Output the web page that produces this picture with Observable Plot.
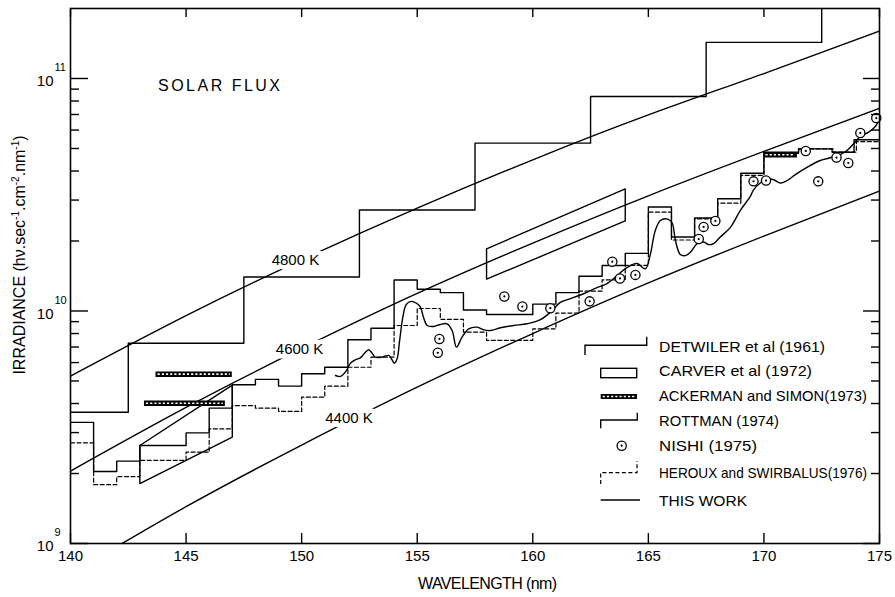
<!DOCTYPE html>
<html>
<head>
<meta charset="utf-8">
<script src="https://cdn.jsdelivr.net/npm/d3@7"></script>
<script src="https://cdn.jsdelivr.net/npm/@observablehq/plot@0.6"></script>
<style>
html, body { margin: 0; padding: 0; background: #fff; overflow: hidden; }
#chart { width: 895px; height: 597px; }
</style>
</head>
<body>
<div id="chart"></div>
<script>
// ---------- DATA ----------
const wavelengthTicks = [140, 145, 150, 155, 160, 165, 170, 175];
const yMajorTicks = [1e9, 1e10, 1e11];
const yExponentLabels = ["9", "10", "11"];
const yMinorTicks = [2e9, 3e9, 4e9, 5e9, 6e9, 7e9, 8e9, 9e9, 2e10, 3e10, 4e10, 5e10, 6e10, 7e10, 8e10, 9e10];

// black-body reference curves
const bbWavelength = [140, 145, 150, 155, 160, 165, 170, 175];
const bb4800 = [5.25e9, 9.55e9, 1.66e10, 2.77e10, 4.47e10, 6.97e10, 1.05e11, 1.6e11];
const bb4600 = [2.05e9, 3.85e9, 6.9e9, 1.19e10, 1.96e10, 3.13e10, 4.86e10, 7.45e10];
const bb4400 = [7.4e8, 1.44e9, 2.65e9, 4.7e9, 8.0e9, 1.32e10, 2.1e10, 3.28e10];
const curveLabelText = ["4800 K", "4600 K", "4400 K"];
const curveLabelWavelength = [149.73, 149.91, 152.05];
const curveLabelIrradiance = [1.65e10, 6.87e9, 3.45e9];

// DETWILER et al (1961) – steps
const detwilerEdges = [140, 142.5, 147.5, 152.5, 157.5, 162.5, 167.5, 172.5, 175];
const detwilerValues = [3.67e9, 7.27e9, 1.40e10, 2.72e10, 5.27e10, 8.37e10, 1.43e11, 2.6e11];

// CARVER et al (1972) – boxes
const carverStart = [143, 158];
const carverEnd = [147, 164];
const carverLowStart = [1.81e9, 1.37e10];
const carverHighStart = [2.64e9, 1.85e10];
const carverLowEnd = [2.87e9, 2.44e10];
const carverHighEnd = [4.8e9, 3.35e10];

// ACKERMAN and SIMON (1973) – hatched bars
const ackermanStart = [143.7, 143.2, 170.0];
const ackermanEnd = [147.0, 146.7, 171.45];
const ackermanValue = [5.35e9, 4.01e9, 4.70e10];

// ROTTMAN (1974) – steps
const rottmanEdges = [140, 141, 142, 143, 145, 146, 147, 148, 149, 150, 151, 152, 153, 154, 155, 156, 157, 158, 160, 161, 162, 163, 164, 165, 166, 167, 168, 169, 170, 171.5, 172.95, 173.9, 175];
const rottmanValues = [3.32e9, 2.04e9, 2.26e9, 2.64e9, 2.99e9, 3.82e9, 4.82e9, 5.08e9, 4.75e9, 5.37e9, 5.73e9, 7.52e9, 8.43e9, 1.36e10, 1.24e10, 1.20e10, 1.01e10, 9.66e9, 1.07e10, 1.20e10, 1.41e10, 1.57e10, 1.77e10, 2.80e10, 2.08e10, 2.51e10, 3.04e10, 3.91e10, 4.82e10, 4.98e10, 4.82e10, 5.45e10];

// NISHI (1975) – points
const nishiWavelength = [155.89, 155.96, 158.77, 159.55, 160.76, 162.46, 163.44, 163.77, 164.44, 167.18, 167.39, 167.90, 169.55, 170.09, 171.81, 172.35, 173.14, 173.65, 174.17, 174.86];
const nishiIrradiance = [6.61e9, 7.58e9, 1.155e10, 1.045e10, 1.028e10, 1.10e10, 1.63e10, 1.38e10, 1.43e10, 2.04e10, 2.30e10, 2.44e10, 3.61e10, 3.64e10, 4.88e10, 3.61e10, 4.57e10, 4.33e10, 5.83e10, 6.76e10];

// HEROUX and SWIRBALUS (1976) – dashed steps
const herouxEdges = [140, 141, 142, 143, 145, 146, 147, 148, 149, 150, 151, 152, 153, 154, 155, 156, 157, 158, 160, 161, 162, 163, 164, 165, 166, 167, 168, 169, 170, 171.5, 173, 174, 175];
const herouxValues = [2.71e9, 1.79e9, 1.94e9, 2.28e9, 2.47e9, 3.11e9, 3.92e9, 3.82e9, 3.70e9, 4.26e9, 4.75e9, 5.73e9, 6.33e9, 8.66e9, 1.025e10, 9.21e9, 8.11e9, 7.47e9, 8.38e9, 9.80e9, 1.217e10, 1.36e10, 1.57e10, 2.66e10, 2.02e10, 2.49e10, 2.91e10, 3.83e10, 4.76e10, 4.98e10, 4.82e10, 5.35e10];

// THIS WORK – continuous curve
const thisWorkWavelength = [151.46, 151.68, 151.94, 152.11, 152.33, 152.54, 152.72, 152.90, 153.05, 153.19, 153.48, 153.77, 153.91, 154.01, 154.13, 154.24, 154.39, 154.53, 154.74, 154.97, 155.14, 155.26, 155.43, 155.71, 156.00, 156.29, 156.51, 156.70, 156.94, 157.23, 157.59, 157.88, 158.17, 158.60, 159.17, 159.75, 160.33, 160.84, 161.19, 161.63, 162.20, 162.78, 163.21, 163.65, 164.08, 164.51, 164.87, 165.09, 165.30, 165.52, 165.81, 166.03, 166.17, 166.38, 166.60, 166.82, 167.11, 167.39, 167.61, 167.82, 168.11, 168.55, 168.98, 169.41, 169.55, 169.84, 170.13, 170.42, 170.71, 171.00, 171.36, 171.86, 172.44, 172.87, 173.30, 173.59, 173.88, 174.17, 174.53, 174.82, 174.96];
const thisWorkIrradiance = [5.28e9, 5.23e9, 5.55e9, 5.96e9, 6.17e9, 6.29e9, 6.58e9, 6.81e9, 6.58e9, 6.33e9, 6.33e9, 6.44e9, 6.17e9, 5.96e9, 6.23e9, 7.47e9, 9.56e9, 1.067e10, 1.10e10, 1.08e10, 1.04e10, 9.47e9, 8.66e9, 8.58e9, 8.75e9, 8.81e9, 8.24e9, 6.99e9, 7.72e9, 8.38e9, 8.52e9, 8.30e9, 8.24e9, 8.47e9, 8.66e9, 8.81e9, 9.17e9, 1.005e10, 1.09e10, 1.13e10, 1.186e10, 1.26e10, 1.31e10, 1.42e10, 1.54e10, 1.60e10, 1.52e10, 1.76e10, 2.22e10, 2.45e10, 2.49e10, 2.39e10, 2.01e10, 1.75e10, 1.73e10, 1.79e10, 1.95e10, 1.98e10, 1.93e10, 1.95e10, 2.08e10, 2.29e10, 2.71e10, 3.11e10, 3.32e10, 3.55e10, 3.70e10, 3.67e10, 3.55e10, 3.64e10, 3.86e10, 4.15e10, 4.44e10, 4.56e10, 4.71e10, 4.90e10, 5.24e10, 5.63e10, 5.88e10, 6.22e10, 6.6e10];

const legendLabels = ["DETWILER et al (1961)", "CARVER et al (1972)", "ACKERMAN and SIMON(1973)", "ROTTMAN (1974)", "NISHI (1975)", "HEROUX and SWIRBALUS(1976)", "THIS WORK"];

// ---------- helpers ----------
function stepPoints(edges, values) {
  const pts = values.map((v, i) => ({x: edges[i], y: v}));
  pts.push({x: edges[edges.length - 1], y: values[values.length - 1]});
  return pts;
}
function seriesPoints(xs, ys) { return xs.map((x, i) => ({x, y: ys[i]})); }
function carverPolygons() {
  return carverStart.map((s, i) => [
    {x: s, y: carverHighStart[i], k: i},
    {x: carverEnd[i], y: carverHighEnd[i], k: i},
    {x: carverEnd[i], y: carverLowEnd[i], k: i},
    {x: s, y: carverLowStart[i], k: i},
    {x: s, y: carverHighStart[i], k: i}
  ]).flat();
}

const FONT = "'Liberation Sans',Arial,sans-serif";
const LW = 1.4;

const ackerman = ackermanValue.map((v, i) => ({y: v, x1: ackermanStart[i], x2: ackermanEnd[i]}));
const curveLabels = curveLabelText.map((t, i) => ({t, x: curveLabelWavelength[i], y: curveLabelIrradiance[i]}));

const plot = Plot.plot({
  width: 895,
  height: 597,
  marginLeft: 70,
  marginRight: 16,
  marginTop: 8,
  marginBottom: 54,
  style: {fontFamily: FONT, fontSize: "15px", background: "#fff", color: "#000", overflow: "visible"},
  x: {domain: [140, 175]},
  y: {type: "log", domain: [1e9, 2e11]},
  marks: [
    // black-body curves
    Plot.line(seriesPoints(bbWavelength, bb4800), {x: "x", y: "y", curve: "natural", stroke: "#000", strokeWidth: LW, clip: true}),
    Plot.line(seriesPoints(bbWavelength, bb4600), {x: "x", y: "y", curve: "natural", stroke: "#000", strokeWidth: LW, clip: true}),
    Plot.line(seriesPoints(bbWavelength, bb4400), {x: "x", y: "y", curve: "natural", stroke: "#000", strokeWidth: LW, clip: true}),
    Plot.text(curveLabels, {x: "x", y: "y", text: "t", fill: "#000", stroke: "#fff", strokeWidth: 9, fontSize: 15}),
    // DETWILER
    Plot.line(stepPoints(detwilerEdges, detwilerValues), {x: "x", y: "y", curve: "step-after", stroke: "#000", strokeWidth: LW, clip: true}),
    // CARVER
    Plot.line(carverPolygons(), {x: "x", y: "y", z: "k", stroke: "#000", strokeWidth: LW, clip: true}),
    // ROTTMAN
    Plot.line(stepPoints(rottmanEdges, rottmanValues), {x: "x", y: "y", curve: "step-after", stroke: "#000", strokeWidth: LW, clip: true}),
    // HEROUX
    Plot.line(stepPoints(herouxEdges, herouxValues), {x: "x", y: "y", curve: "step-after", stroke: "#000", strokeWidth: 1.2, strokeDasharray: "4,2.5", clip: true}),
    // THIS WORK
    Plot.line(seriesPoints(thisWorkWavelength, thisWorkIrradiance), {x: "x", y: "y", curve: "catmull-rom", stroke: "#000", strokeWidth: LW, clip: true}),
    // ACKERMAN hatched bars
    Plot.ruleY(ackerman, {y: "y", x1: "x1", x2: "x2", stroke: "#000", strokeWidth: 5.5}),
    Plot.ruleY(ackerman, {y: "y", x1: "x1", x2: "x2", stroke: "#fff", strokeWidth: 1.6, strokeDasharray: "2.2,2", insetLeft: 2, insetRight: 2}),
    // NISHI
    Plot.dot(seriesPoints(nishiWavelength, nishiIrradiance), {x: "x", y: "y", r: 4.6, fill: "#fff", stroke: "#000", strokeWidth: 1.3}),
    Plot.dot(seriesPoints(nishiWavelength, nishiIrradiance), {x: "x", y: "y", r: 1.1, fill: "#000", stroke: null}),
    // frame & axes (ticks pointing inward)
    Plot.frame({stroke: "#000", strokeWidth: 1.6}),
    Plot.axisX(wavelengthTicks, {anchor: "bottom", tickSize: -10, tickPadding: 17, label: null, tickFormat: d => String(d), strokeWidth: LW, fontSize: 15}),
    Plot.axisX(wavelengthTicks, {anchor: "top", tickSize: -8, tickPadding: 0, label: null, tickFormat: () => "", strokeWidth: LW}),
    Plot.axisY(yMajorTicks, {anchor: "left", tickSize: -18, tickPadding: 0, label: null, tickFormat: () => "", strokeWidth: LW}),
    Plot.axisY(yMinorTicks, {anchor: "left", tickSize: -9, tickPadding: 0, label: null, tickFormat: () => "", strokeWidth: LW}),
    Plot.axisY(yMajorTicks, {anchor: "right", tickSize: -17, tickPadding: 0, label: null, tickFormat: () => "", strokeWidth: LW}),
    Plot.axisY(yMinorTicks, {anchor: "right", tickSize: -9, tickPadding: 0, label: null, tickFormat: () => "", strokeWidth: LW}),
    // y tick labels 10^n
    Plot.text(yMajorTicks, {y: d => d, frameAnchor: "left", text: () => "10", textAnchor: "end", dx: -17, dy: 3, fontSize: 15}),
    Plot.text(yMajorTicks, {y: d => d, frameAnchor: "left", text: (d, i) => yExponentLabels[i], textAnchor: "start", dx: -16, dy: -11, fontSize: 11})
  ]
});

document.getElementById("chart").appendChild(plot);

// ---------- annotations & legend ----------
const svg = d3.select(plot);
const ann = svg.append("g").attr("font-family", FONT).attr("fill", "#000").attr("text-anchor", "start");

ann.append("text").attr("x", 158).attr("y", 90.5).attr("font-size", 16)
  .attr("textLength", 122).attr("lengthAdjust", "spacing").text("SOLAR FLUX");

ann.append("text").attr("x", 418).attr("y", 588.5).attr("font-size", 16)
  .attr("textLength", 139).attr("lengthAdjust", "spacing").text("WAVELENGTH (nm)");

const yl = ann.append("text").attr("transform", "translate(25,255) rotate(-90)")
  .attr("text-anchor", "middle").attr("font-size", 16);
yl.append("tspan").text("IRRADIANCE (h\u03BD.sec");
yl.append("tspan").attr("dy", -6).attr("font-size", 10).text("-1");
yl.append("tspan").attr("dy", 6).text(".cm");
yl.append("tspan").attr("dy", -6).attr("font-size", 10).text("-2");
yl.append("tspan").attr("dy", 6).text(".nm");
yl.append("tspan").attr("dy", -6).attr("font-size", 10).text("-1");
yl.append("tspan").attr("dy", 6).text(")");

// legend
const lg = svg.append("g").attr("fill", "none").attr("stroke", "#000").attr("stroke-width", LW);
lg.append("path").attr("d", "M585,355V345.3H646.7V336.7");
lg.append("rect").attr("x", 600.7).attr("y", 368.3).attr("width", 36).attr("height", 9.4);
lg.append("line").attr("x1", 600.7).attr("x2", 637).attr("y1", 396.5).attr("y2", 396.5).attr("stroke-width", 5);
lg.append("line").attr("x1", 602.7).attr("x2", 635).attr("y1", 396.5).attr("y2", 396.5).attr("stroke", "#fff").attr("stroke-width", 1.5).attr("stroke-dasharray", "2.2,2");
lg.append("path").attr("d", "M600.7,428.3V420H637.3V412.7");
lg.append("circle").attr("cx", 621.7).attr("cy", 445.7).attr("r", 4.6).attr("fill", "#fff").attr("stroke-width", 1.3);
lg.append("circle").attr("cx", 621.7).attr("cy", 445.7).attr("r", 1.1).attr("fill", "#000").attr("stroke", "none");
lg.append("path").attr("d", "M600.7,484V472.7H637V461").attr("stroke-width", 1.2).attr("stroke-dasharray", "4,2.5");
lg.append("line").attr("x1", 600.7).attr("x2", 640).attr("y1", 500).attr("y2", 500);

const legendY = [346.7, 370.8, 395.8, 420.8, 445, 472.5, 500];
const legendW = [166, 153, 208, 120, 98, 208, 88];
const lt = svg.append("g").attr("font-family", FONT).attr("font-size", 15).attr("fill", "#000").attr("text-anchor", "start");
legendLabels.forEach((t, i) => {
  lt.append("text").attr("x", 659).attr("y", legendY[i] + 5.5)
    .attr("textLength", legendW[i]).attr("lengthAdjust", "spacingAndGlyphs").text(t);
});
</script>
</body>
</html>
